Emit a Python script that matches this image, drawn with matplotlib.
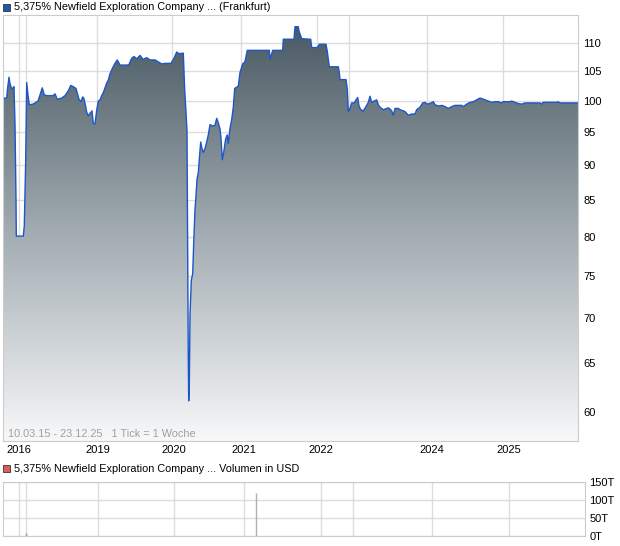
import matplotlib
matplotlib.use('Agg')
import matplotlib.pyplot as plt
import matplotlib.transforms as mtransforms
from matplotlib.colors import LinearSegmentedColormap
from matplotlib.patches import Rectangle
import numpy as np

plt.rcParams['font.family'] = ['Liberation Sans', 'DejaVu Sans']

# price series: week tick index on the chart axis, price in %
ticks = [0, 3.7, 4.3, 6, 7, 8.7, 10, 11, 12, 13, 13.3, 20.3, 21.3, 22.7, 23.7, 25, 26.3,
         30, 33, 35, 37, 39.3, 41.3, 44, 50, 52, 54.3, 58.7, 62, 65.3, 67.7, 70.3, 73,
         76, 78, 79.7, 81, 82.7, 83.7, 85.3, 87, 89, 90.3, 92, 93.7, 95.3, 97, 98.7,
         100.3, 102, 103.7, 105.3, 107, 109.3, 112, 114.3, 117, 121.7, 124.7, 126,
         128.7, 131, 133.7, 137, 140, 143.7, 147, 152, 158.7, 162, 168, 171, 173.7,
         176, 180.3, 181.7, 183, 184, 184.7, 185.3, 185.7, 186.3, 187, 188.3, 189.7,
         190.7, 192, 193, 194, 195.3, 196.3, 197.7, 199, 200.3, 202, 203.7, 205.3,
         207, 209.3, 212, 213.7, 215.3, 217, 218, 219.3, 221, 222.7, 224.3, 225.3,
         227, 228.7, 230.3, 231.7, 235.3, 237, 239.7, 242, 244.3, 266.3, 267, 269.7,
         279.7, 280.3, 291, 292, 295.3, 296, 297.7, 298.7, 307.7, 308.7, 314.3, 316.3,
         323, 324.3, 326.3, 335.3, 336.3, 337, 343, 344.3, 345.3, 347, 348.7, 351.3,
         353, 354.7, 356, 357.7, 360.3, 363.7, 365.3, 367, 368.7, 371, 373.7, 375.3,
         377, 380.3, 385.3, 387, 388.7, 390.3, 392, 395.3, 397, 400.3, 402, 405.3,
         408.7, 412, 413.7, 417, 419.7, 422, 424, 426.3, 428, 430.3, 432, 435.3, 439,
         442, 445.3, 448.7, 452, 458.7, 460.3, 463.7, 467, 470.3, 473.7, 477, 479,
         482, 485.3, 488.7, 492, 495.3, 498.7, 500, 507, 508.7, 512, 515.3, 518.7,
         522, 537, 538.7, 540, 554, 555, 557, 575]
prices = [100.5, 100.5, 101.7, 104, 102.9, 102, 102.2, 102.4, 96.2, 85.2, 80.1, 80.1, 81.5,
          90.7, 103.1, 101, 99.4, 99.5, 99.8, 100, 101, 102.2, 101, 100.9, 100.9, 101.2,
          100.3, 100.5, 100.9, 101.7, 102.6, 102.4, 102.1, 100.3, 99.9, 100.7, 100.4,
          99.1, 98.2, 97.6, 98, 98.4, 96.4, 96.3, 98.5, 100, 100.2, 100.9, 101.4, 102.2,
          103, 103.5, 104.6, 105.5, 106.4, 107, 106.1, 106.1, 106.1, 106.2, 107.3, 107.6,
          107.2, 107.8, 107.1, 107.4, 107, 107, 106.3, 106.4, 106.4, 107.3, 108.4, 108.1,
          108.2, 101.8, 98.2, 95.2, 76.5, 65.2, 61.1, 62.5, 70.3, 74.5, 75.3, 79.2, 83.7,
          85.6, 87.9, 88.9, 90.9, 93.5, 92.5, 91.9, 92.5, 93.5, 94.6, 96.2, 96, 96.1,
          97.2, 96.5, 95.5, 94.1, 90.8, 92.2, 94, 94.6, 93.3, 95.6, 97, 99, 102.1, 102.5,
          104.8, 106.3, 106.7, 108.7, 108.7, 107.1, 108.7, 108.7, 110.7, 110.7, 113, 113,
          112.2, 111.3, 110.8, 110.7, 109.2, 109.2, 109.8, 109.8, 108.5, 105.8, 105.8,
          104.8, 103.6, 103.6, 102, 98.3, 98.8, 99.7, 99.7, 100.2, 100.6, 99.2, 98.6,
          98.4, 99.3, 99.8, 100.8, 99.8, 100, 100.2, 99.4, 99, 98.6, 98.9, 98.7, 98.4,
          97.7, 98.8, 98.8, 98.6, 98.4, 98.3, 97.7, 97.9, 97.9, 98.6, 99, 99.7, 99.8,
          99.5, 99.6, 99.7, 99.9, 99.4, 99.2, 99.3, 99.1, 98.8, 99.1, 99.3, 99.3, 99.1,
          99.5, 99.8, 99.9, 100.2, 100.5, 100.4, 100.2, 100, 99.8, 99.9, 99.9, 99.7,
          99.9, 99.9, 100, 99.8, 99.6, 99.5, 99.7, 99.7, 99.5, 99.8, 99.8, 99.9, 99.7,
          99.7]

year_ticks = [16, 23, 94, 169, 238, 314, 346, 424, 500]
year_labels = ['2016', '', '2019', '2020', '2021', '2022', '', '2024', '2025']
price_ticks = [60, 65, 70, 75, 80, 85, 90, 95, 100, 105, 110]

vol_ticks = [23, 250]
vol_values = [8, 120]
vol_colors = ['#55c455', '#b0b0b0']
vol_yticks = [0, 50, 100, 150]

W, H = 620, 546
fig = plt.figure(figsize=(W / 100, H / 100), dpi=100)


def box(l, t, r, b):
    return [l / W, 1 - b / H, (r - l) / W, (b - t) / H]


grid_c = '#dddddd'
x_max = 575
fs = 7.8

# main price chart
ax = fig.add_axes(box(3, 15, 578, 441))
ax.set_yscale('log')
ax.set_xlim(0, x_max)
ax.set_ylim(57.2, 115.2)
for v in price_ticks:
    ax.axhline(v, color=grid_c, lw=1, zorder=0)
for t in year_ticks:
    ax.axvline(t, color=grid_c, lw=1, zorder=0)

poly = ax.fill_between(ticks, prices, 50, facecolor='none', edgecolor='none')
cmap = LinearSegmentedColormap.from_list('g', ['#f7f8f9', '#a0aab0', '#45555f'])
grad = np.linspace(0, 1, 256).reshape(-1, 1)
img = ax.imshow(grad, cmap=cmap, origin='lower', aspect='auto',
                extent=(0, 1, 0, 1), transform=ax.transAxes, zorder=1)
img.set_clip_path(poly.get_paths()[0], transform=ax.transData)
ax.plot(ticks, prices, color='#1d56c9', lw=1.0, zorder=2)

ax.yaxis.tick_right()
ax.set_yticks(price_ticks)
ax.set_yticklabels([str(v) for v in price_ticks])
ax.yaxis.set_minor_locator(matplotlib.ticker.NullLocator())
ax.tick_params(axis='y', length=0, labelsize=8, pad=4)
ax.set_xticks([])
for s in ax.spines.values():
    s.set_color('#cccccc')
    s.set_linewidth(0.8)
ax.text(5 / 575, 7 / 426, '10.03.15 - 23.12.25   1 Tick = 1 Woche', transform=ax.transAxes,
        fontsize=fs, color='#a0a0a0', va='center', ha='left')

# volume chart
axv = fig.add_axes(box(3, 482, 585, 536))
axv.set_xlim(0, x_max)
axv.set_ylim(0, 150)
for v in vol_yticks:
    axv.axhline(v, color=grid_c, lw=1, zorder=0)
for t in year_ticks:
    axv.axvline(t, color=grid_c, lw=1, zorder=0)
axv.vlines(vol_ticks, 0, vol_values, colors=vol_colors, lw=1, zorder=2)
axv.yaxis.tick_right()
axv.set_yticks(vol_yticks)
axv.set_yticklabels([f'{v}T' for v in vol_yticks])
axv.tick_params(axis='y', length=0, labelsize=8, pad=3)
axv.set_xticks([])
for s in axv.spines.values():
    s.set_color('#cccccc')
    s.set_linewidth(0.8)

# year labels, placed by the volume axis scale
trans = mtransforms.blended_transform_factory(axv.transData, fig.transFigure)
for t, lab in zip(year_ticks, year_labels):
    fig.text(t, 1 - 450 / H, lab, transform=trans, ha='center', va='center', fontsize=8)

# legend-style titles
fig.patches.append(Rectangle((3 / W, 1 - 11 / H), 7 / W, 7 / H, transform=fig.transFigure,
                             facecolor='#2255b0', edgecolor='#333333', lw=0.6))
fig.text(14 / W, 1 - 7.5 / H, '5,375% Newfield Exploration Company ... (Frankfurt)',
         fontsize=fs, va='center', ha='left')
fig.patches.append(Rectangle((3 / W, 1 - 472 / H), 7 / W, 7 / H, transform=fig.transFigure,
                             facecolor='#d9605a', edgecolor='#333333', lw=0.6))
fig.text(14 / W, 1 - 468.5 / H, '5,375% Newfield Exploration Company ... Volumen in USD',
         fontsize=fs, va='center', ha='left')

fig.savefig('out.png', dpi=100)
